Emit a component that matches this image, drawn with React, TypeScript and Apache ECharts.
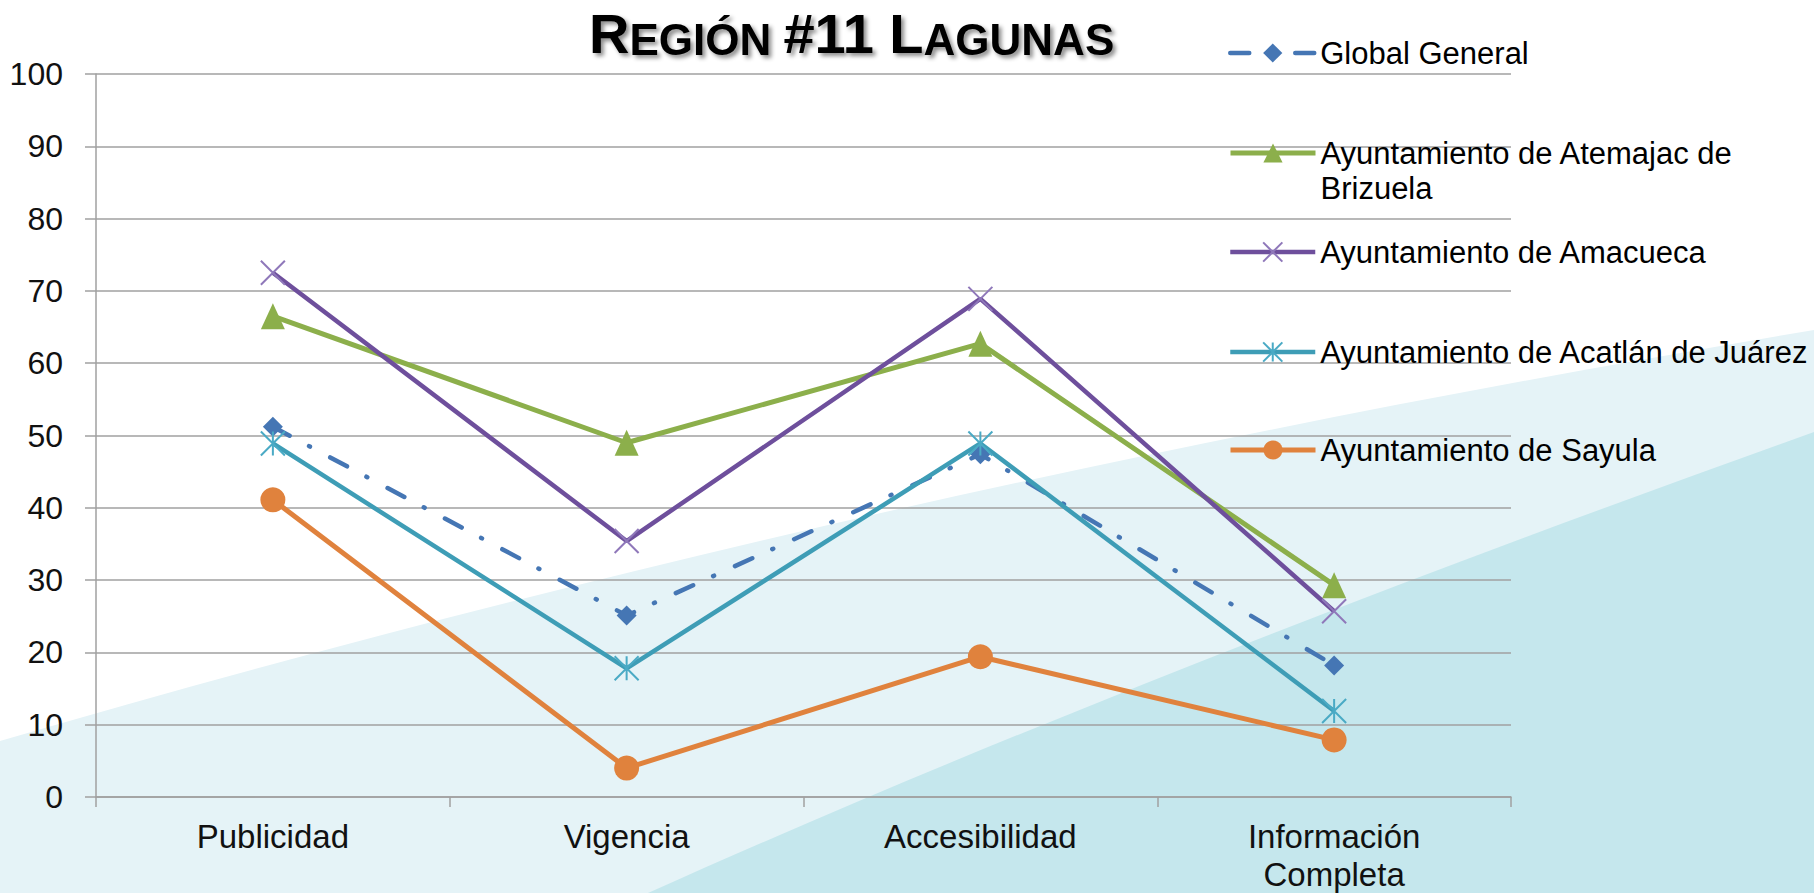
import React, { useEffect, useRef } from "react";
import * as echarts from "echarts";

const categories = ["Publicidad", "Vigencia", "Accesibilidad", "Información Completa"];
const yTicks = { min: 0, max: 100, interval: 10 };

const seriesNames = [
  "Global General",
  "Ayuntamiento de Atemajac de Brizuela",
  "Ayuntamiento de Amacueca",
  "Ayuntamiento de Acatlán de Juárez",
  "Ayuntamiento de Sayula",
];
const globalGeneral = [51.2, 25.1, 47.4, 18.2];
const atemajac = [66.5, 49.0, 62.7, 29.3];
const amacueca = [72.5, 35.4, 68.9, 25.7];
const acatlan = [48.9, 17.8, 48.9, 11.9];
const sayula = [41.1, 4.0, 19.4, 7.9];

const FONT = "'Liberation Sans', Arial, sans-serif";

echarts.graphic.registerShape(
  "bgLight",
  echarts.graphic.extendPath("M0,741 C605,564 1210,431 1814,330 L1814,893 L0,893 Z", {})
);
echarts.graphic.registerShape(
  "bgDark",
  echarts.graphic.extendPath("M648,893 C1000,735 1400,580 1814,432 L1814,893 Z", {})
);

const X_PATH = "path://M0,0L10,10M10,0L0,10";
const STAR_PATH = "path://M5,0L5,10M0,0L10,10M10,0L0,10";

export default function App() {
  const ref = useRef<HTMLDivElement>(null);
  useEffect(() => {
    if (!ref.current) return;
    const chart = echarts.init(ref.current, null, { renderer: "svg" });

    const mkLegend = (name: string, top: number, lw: number, bw: number) => ({
      left: 1223,
      top,
      orient: "vertical",
      data: [name],
      itemWidth: 85,
      itemHeight: 24,
      selectedMode: false,
      lineStyle: { width: lw },
      itemStyle: { borderWidth: bw },
      textStyle: { fontSize: 31, fontFamily: FONT, color: "#000", lineHeight: 35 },
    });

    const shadow = {
      textShadowColor: "rgba(0,0,0,0.45)",
      textShadowBlur: 4,
      textShadowOffsetX: 3,
      textShadowOffsetY: 3,
    };

    const option: any = {
      animation: false,
      backgroundColor: "#ffffff",
      graphic: [
        { type: "bgLight", z: -100, silent: true, style: { fill: "#E5F3F7" } },
        { type: "bgDark", z: -99, silent: true, style: { fill: "#C5E7ED" } },
      ],
      title: {
        left: 584,
        top: 0,
        text: "{a|R}{b|EGIÓN} {a|#11 L}{b|AGUNAS}",
        textStyle: {
          fontSize: 44,
          fontWeight: "bold",
          fontFamily: FONT,
          color: "#000",
          ...shadow,
          rich: {
            a: { fontSize: 56, fontWeight: "bold", fontFamily: FONT, color: "#000", verticalAlign: "bottom", ...shadow },
            b: { fontSize: 44, fontWeight: "bold", fontFamily: FONT, color: "#000", verticalAlign: "bottom", ...shadow },
          },
        },
      },
      legend: [
        mkLegend(seriesNames[0], 30.5, 4.5, 0),
        {
          ...mkLegend(seriesNames[1], 95.5, 5, 0),
          formatter: () => "\u00a0\nAyuntamiento de Atemajac de\nBrizuela",
        },
        mkLegend(seriesNames[2], 229.5, 4.5, 2),
        mkLegend(seriesNames[3], 329.5, 4.5, 2),
        mkLegend(seriesNames[4], 427.5, 5, 0),
      ],
      grid: { left: 96, right: 303, top: 74, bottom: 96 },
      xAxis: {
        type: "category",
        data: categories,
        boundaryGap: true,
        axisLine: { lineStyle: { color: "#A0A0A0", width: 1.5 } },
        axisTick: { show: true, length: 10, lineStyle: { color: "#A0A0A0", width: 1.5 } },
        axisLabel: {
          fontSize: 33,
          fontFamily: FONT,
          color: "#111",
          lineHeight: 38,
          margin: 20,
          formatter: (v: string) => v.replace(" ", "\n"),
        },
      },
      yAxis: {
        type: "value",
        min: yTicks.min,
        max: yTicks.max,
        interval: yTicks.interval,
        axisLine: { show: true, lineStyle: { color: "#A0A0A0", width: 1.5 } },
        axisTick: { show: true, length: 11, lineStyle: { color: "#A0A0A0", width: 1.5 } },
        splitLine: { show: true, lineStyle: { color: "#A0A0A0", width: 1.5 } },
        axisLabel: { fontSize: 32, fontFamily: FONT, color: "#111", margin: 33 },
      },
      series: [
        {
          name: seriesNames[0],
          type: "line",
          data: globalGeneral,
          symbol: "diamond",
          symbolSize: 20,
          lineStyle: { color: "#4576B4", width: 4.5, type: [19, 22, 1, 23], cap: "round" },
          itemStyle: { color: "#4576B4" },
          emphasis: { disabled: true },
        },
        {
          name: seriesNames[1],
          type: "line",
          data: atemajac,
          symbol: "triangle",
          symbolSize: [24, 26],
          lineStyle: { color: "#8CAF4B", width: 5 },
          itemStyle: { color: "#8CAF4B" },
          emphasis: { disabled: true },
        },
        {
          name: seriesNames[2],
          type: "line",
          data: amacueca,
          symbol: X_PATH,
          symbolSize: 24,
          lineStyle: { color: "#6E4F9C", width: 4.5 },
          itemStyle: { color: "#8F78BA", borderColor: "#8F78BA", borderWidth: 2 },
          emphasis: { disabled: true },
        },
        {
          name: seriesNames[3],
          type: "line",
          data: acatlan,
          symbol: STAR_PATH,
          symbolSize: 24,
          lineStyle: { color: "#3E9DB6", width: 4.5 },
          itemStyle: { color: "#4AAAC5", borderColor: "#4AAAC5", borderWidth: 2 },
          emphasis: { disabled: true },
        },
        {
          name: seriesNames[4],
          type: "line",
          data: sayula,
          symbol: "circle",
          symbolSize: 25,
          lineStyle: { color: "#E0823D", width: 5 },
          itemStyle: { color: "#E0823D" },
          emphasis: { disabled: true },
        },
      ],
    };
    chart.setOption(option);
    return () => chart.dispose();
  }, []);
  return (
    <div
      ref={ref}
      style={{ position: "fixed", left: 0, top: 0, width: 1814, height: 893 }}
    />
  );
}
